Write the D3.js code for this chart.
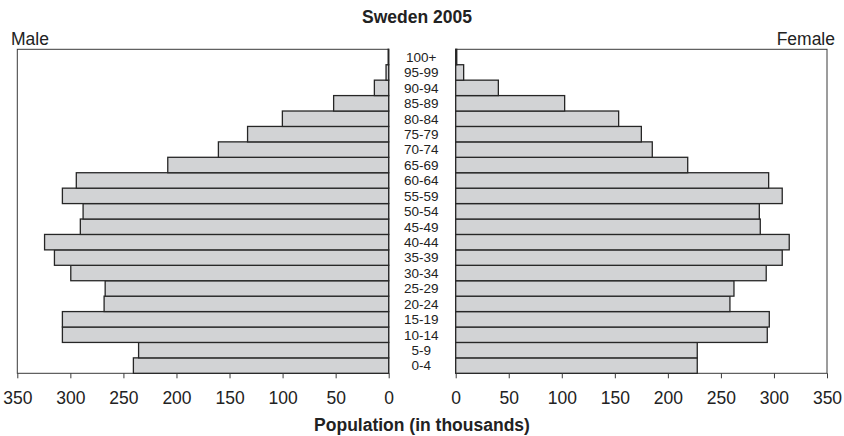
<!DOCTYPE html>
<html>
<head>
<meta charset="utf-8">
<script src="https://cdn.jsdelivr.net/npm/d3@7"></script>
<style>
  html, body { margin: 0; padding: 0; background: #fff; }
  svg { display: block; font-family: "Liberation Sans", Arial, Helvetica, sans-serif; }
</style>
</head>
<body>
<svg id="chart" width="844" height="436"></svg>
<script>
// ---- data (population in thousands) ----
const ageGroups = ["0-4","5-9","10-14","15-19","20-24","25-29","30-34","35-39","40-44","45-49",
                   "50-54","55-59","60-64","65-69","70-74","75-79","80-84","85-89","90-94","95-99","100+"];
const maleValues = [240.6, 235.7, 307.5, 307.5, 268.2, 267.2, 299.6, 315.0, 324.3, 290.6,
                    288.0, 307.5, 294.4, 208.2, 160.5, 133.0, 100.2, 51.9, 13.5, 2.5, 0.5];
const femaleValues = [227.7, 227.7, 293.7, 295.6, 258.5, 262.3, 292.7, 307.8, 314.4, 287.1,
                      286.2, 307.8, 295.0, 218.7, 185.3, 175.0, 153.6, 102.7, 40.2, 7.5, 1.0];
const tickValues = [0, 50, 100, 150, 200, 250, 300, 350];
const titleText = "Sweden 2005";
const axisTitle = "Population (in thousands)";

(function () {
const svg = d3.select("#chart");
const plotTop = 49.3, plotBottom = 373.3;
const leftX0 = 388.7, leftX1 = 17.3;
const rightX0 = 455.7, rightX1 = 827;

const y = d3.scaleBand().domain(ageGroups.slice().reverse()).range([plotTop, plotBottom]).padding(0);
const xL = d3.scaleLinear().domain([0, 350]).range([leftX0, leftX1]);
const xR = d3.scaleLinear().domain([0, 350]).range([rightX0, rightX1]);

const barFill = "#d2d3d5", barStroke = "#262626", frameStroke = "#3a3a3a", textCol = "#222";

// frames
svg.append("rect").attr("x", xL(350)).attr("y", plotTop).attr("width", xL(0) - xL(350)).attr("height", plotBottom - plotTop)
  .attr("fill", "none").attr("stroke", frameStroke).attr("stroke-width", 1);
svg.append("rect").attr("x", xR(0)).attr("y", plotTop).attr("width", xR(350) - xR(0)).attr("height", plotBottom - plotTop)
  .attr("fill", "none").attr("stroke", frameStroke).attr("stroke-width", 1);

// bars
svg.append("g").selectAll("rect").data(ageGroups).join("rect")
  .attr("x", (d, i) => xL(maleValues[i]))
  .attr("y", d => y(d))
  .attr("width", (d, i) => xL(0) - xL(maleValues[i]))
  .attr("height", y.bandwidth())
  .attr("fill", barFill).attr("stroke", barStroke).attr("stroke-width", 1.3);

svg.append("g").selectAll("rect").data(ageGroups).join("rect")
  .attr("x", xR(0))
  .attr("y", d => y(d))
  .attr("width", (d, i) => xR(femaleValues[i]) - xR(0))
  .attr("height", y.bandwidth())
  .attr("fill", barFill).attr("stroke", barStroke).attr("stroke-width", 1.3);

// age labels
svg.append("g").selectAll("text").data(ageGroups).join("text")
  .attr("x", (leftX0 + rightX0) / 2 - 1)
  .attr("y", d => y(d) + y.bandwidth() / 2)
  .attr("dy", "0.36em")
  .attr("text-anchor", "middle")
  .attr("font-size", 13.5)
  .attr("fill", textCol)
  .text(d => d);

// axes
function styleAxis(g) {
  g.select(".domain").remove();
  g.selectAll(".tick line").attr("stroke", frameStroke).attr("stroke-width", 1);
  g.selectAll(".tick text").attr("font-size", 17.5).attr("fill", textCol)
    .attr("font-family", "'Liberation Sans', Arial, Helvetica, sans-serif").attr("dy", "0.71em");
}
svg.append("g").attr("transform", `translate(0,${plotBottom})`)
  .call(d3.axisBottom(xL).tickValues(tickValues).tickSize(5).tickPadding(13).tickFormat(d3.format("d")))
  .call(styleAxis);
svg.append("g").attr("transform", `translate(0,${plotBottom})`)
  .call(d3.axisBottom(xR).tickValues(tickValues).tickSize(5).tickPadding(13).tickFormat(d3.format("d")))
  .call(styleAxis);

// titles
svg.append("text").attr("x", 417).attr("y", 22.7).attr("text-anchor", "middle")
  .attr("font-size", 17.5).attr("font-weight", "bold").attr("fill", textCol).text(titleText);
svg.append("text").attr("x", 11).attr("y", 45).attr("text-anchor", "start")
  .attr("font-size", 17.5).attr("fill", textCol).text("Male");
svg.append("text").attr("x", 835).attr("y", 45).attr("text-anchor", "end")
  .attr("font-size", 17.5).attr("fill", textCol).text("Female");
svg.append("text").attr("x", 422).attr("y", 431).attr("text-anchor", "middle")
  .attr("font-size", 17.5).attr("font-weight", "bold").attr("fill", textCol).text(axisTitle);
})();
</script>
</body>
</html>
